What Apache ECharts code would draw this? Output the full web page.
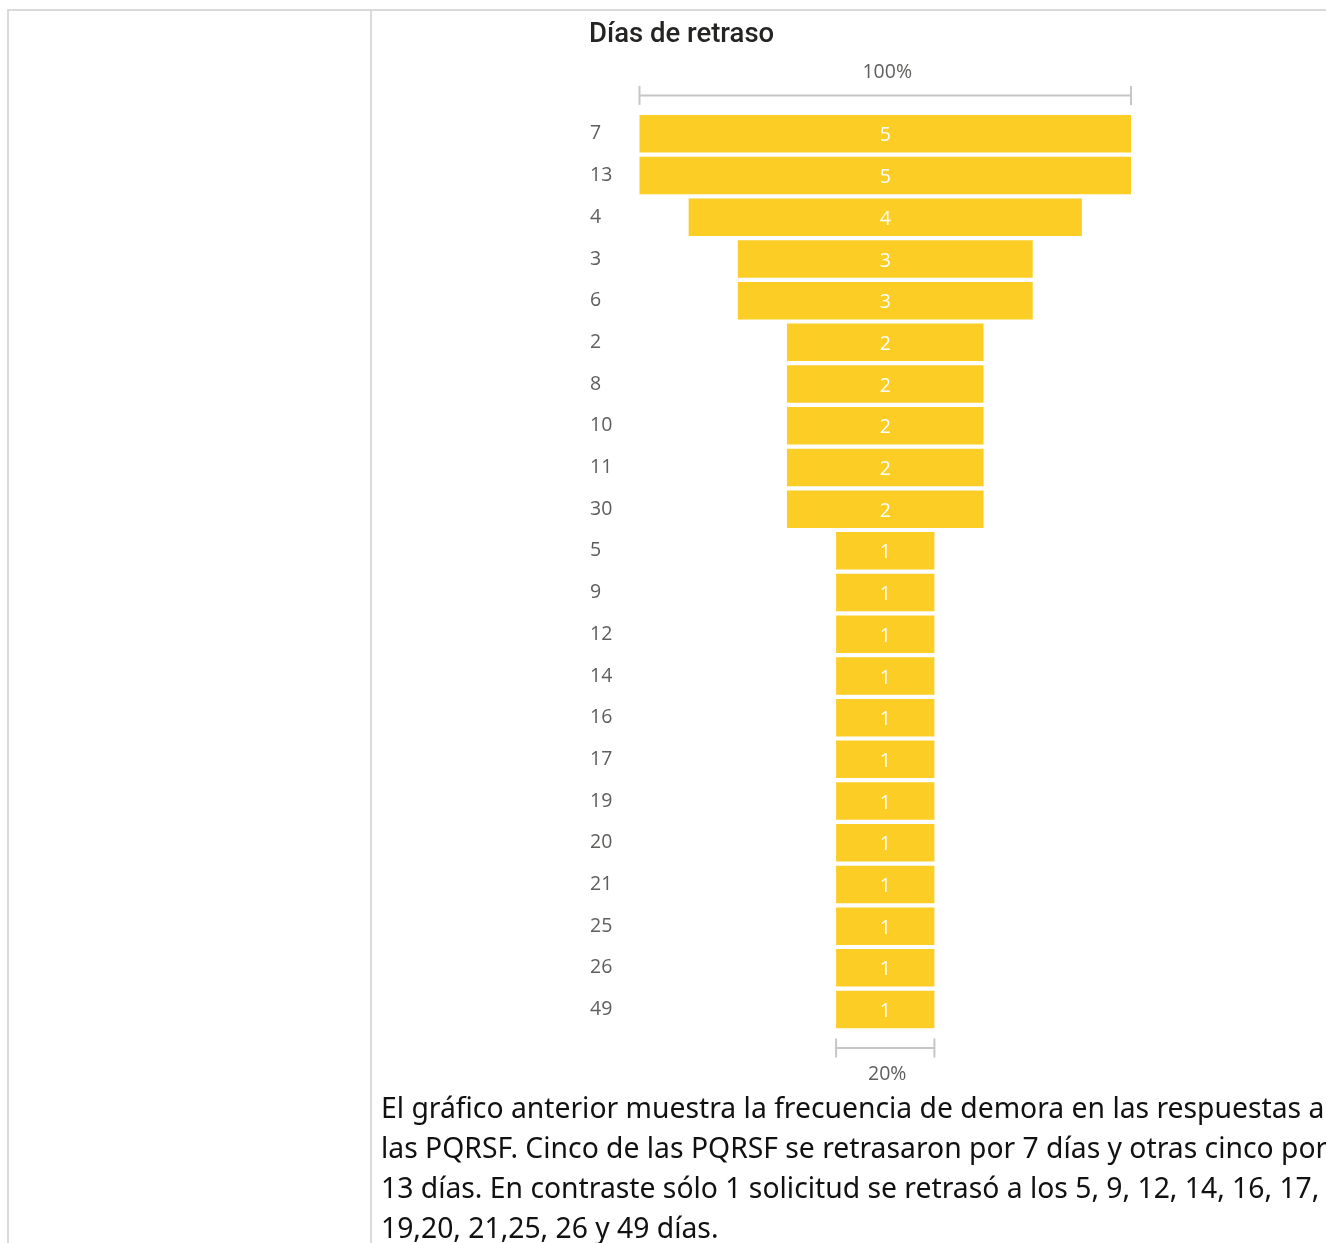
<!DOCTYPE html>
<html>
<head>
<meta charset="utf-8">
<script src="https://cdn.jsdelivr.net/npm/echarts@6/dist/echarts.min.js"></script>
<style>
  html, body { margin: 0; padding: 0; background: #fff; overflow: hidden; }
  body { width: 1326px; height: 1243px; position: relative; }
  .rule-h { position: absolute; left: 7px; top: 9px; width: 1319px; height: 2px; background: #dadada; }
  .rule-v1 { position: absolute; left: 7px; top: 9px; width: 2px; height: 1234px; background: #dadada; }
  .rule-v2 { position: absolute; left: 370px; top: 9px; width: 2px; height: 1234px; background: #dadada; }
  #chart { position: absolute; left: 0; top: 0; width: 1326px; height: 1243px; }
  .texto {
    position: absolute; left: 381px; top: 1087px; width: 1100px;
    font-family: "Noto Sans", sans-serif; font-size: 28.3px; line-height: 40px;
    color: #111; white-space: nowrap;
  }
</style>
</head>
<body>
<div class="rule-h"></div>
<div class="rule-v1"></div>
<div class="rule-v2"></div>
<div id="chart"></div>
<div class="texto">
El gráfico anterior muestra la frecuencia de demora en las respuestas a<br>
las PQRSF. Cinco de las PQRSF se retrasaron por 7 días y otras cinco por<br>
13 días. En contraste sólo 1 solicitud se retrasó a los 5, 9, 12, 14, 16, 17,<br>
19,20, 21,25, 26 y 49 días.
</div>
<script>
const dias = ['7', '13', '4', '3', '6', '2', '8', '10', '11', '30', '5', '9',
  '12', '14', '16', '17', '19', '20', '21', '25', '26', '49'];
const cantidad = [5, 5, 4, 3, 3, 2, 2, 2, 2, 2, 1, 1, 1, 1, 1, 1, 1, 1, 1, 1, 1, 1];

const maxVal = Math.max(...cantidad);
const ultimo = cantidad.length - 1;

// porcentaje de conversion: primero y ultimo respecto al primero
const brackets = [
  [cantidad[0], 0, -1, Math.round(cantidad[0] / cantidad[0] * 100) + '%'],
  [cantidad[ultimo], ultimo, 1, Math.round(cantidad[ultimo] / cantidad[0] * 100) + '%']
];

const chart = echarts.init(document.getElementById('chart'));

let option = {
  animation: false,
  title: {
    text: 'Días de retraso',
    left: 584,
    top: 16,
    textStyle: {
      fontFamily: 'Roboto',
      fontWeight: 500,
      fontSize: 27.5,
      color: '#252423'
    }
  },
  grid: {
    left: 639.5,
    right: 195,
    top: 113,
    bottom: 212.6
  },
  xAxis: {
    type: 'value',
    min: 0,
    max: maxVal,
    show: false
  },
  yAxis: {
    type: 'category',
    data: dias,
    inverse: true,
    axisLine: { show: false },
    axisTick: { show: false },
    splitLine: { show: false },
    axisLabel: {
      align: 'left',
      margin: 49.5,
      padding: [2, 0, 0, 0],
      color: '#605e5c',
      fontFamily: 'Open Sans',
      fontSize: 19.5
    }
  },
  series: [
    {
      type: 'bar',
      stack: 'embudo',
      silent: true,
      barCategoryGap: '10%',
      itemStyle: { color: 'transparent' },
      data: cantidad.map(v => (maxVal - v) / 2)
    },
    {
      type: 'bar',
      stack: 'embudo',
      barCategoryGap: '10%',
      itemStyle: { color: '#fccd25' },
      label: {
        show: true,
        position: 'inside',
        offset: [0, 2],
        color: '#ffffff',
        fontFamily: 'Open Sans',
        fontSize: 19.5
      },
      data: cantidad
    },
    {
      type: 'custom',
      silent: true,
      encode: { x: 0, y: 1 },
      data: brackets,
      renderItem: function (params, api) {
        const v = api.value(0);
        const idx = api.value(1);
        const dir = api.value(2);
        const a = api.coord([(maxVal - v) / 2, idx]);
        const b = api.coord([(maxVal + v) / 2, idx]);
        const band = api.size([0, 1])[1];
        const y = a[1] + dir * (band / 2 + 17.6);
        const lineStyle = { stroke: '#c8c6c4', lineWidth: 2 };
        return {
          type: 'group',
          children: [
            { type: 'line', shape: { x1: a[0], y1: y, x2: b[0], y2: y }, style: lineStyle },
            { type: 'line', shape: { x1: a[0], y1: y - 9.5, x2: a[0], y2: y + 9.5 }, style: lineStyle },
            { type: 'line', shape: { x1: b[0], y1: y - 9.5, x2: b[0], y2: y + 9.5 }, style: lineStyle },
            {
              type: 'text',
              style: {
                x: (a[0] + b[0]) / 2 + 2,
                y: y + dir * (dir < 0 ? 23 : 26),
                text: brackets[params.dataIndex][3],
                fill: '#605e5c',
                font: '19.5px "Open Sans"',
                align: 'center',
                verticalAlign: 'middle'
              }
            }
          ]
        };
      }
    }
  ]
};

if (option && typeof option === 'object') {
  chart.setOption(option);
}
</script>
</body>
</html>
